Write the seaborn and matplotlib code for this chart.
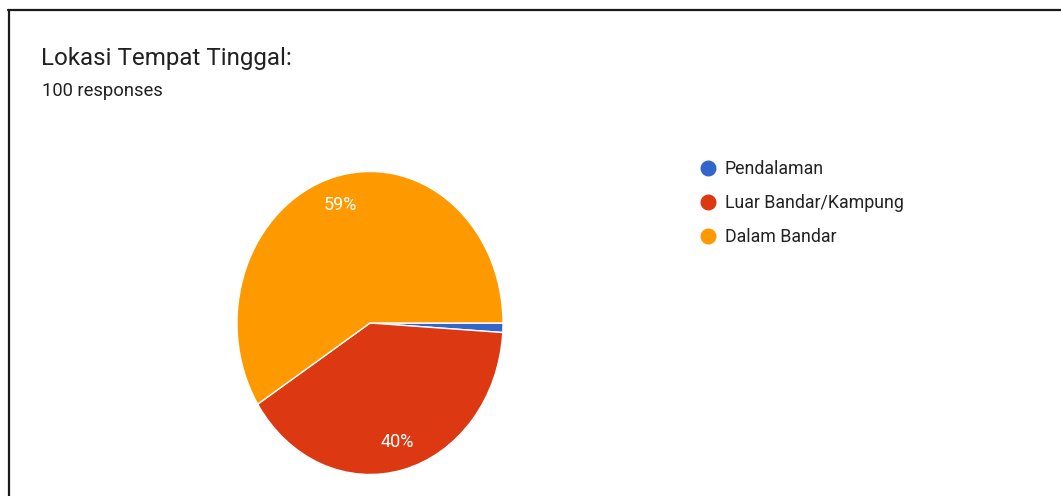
import matplotlib
matplotlib.use("Agg")
import matplotlib.pyplot as plt
from matplotlib.lines import Line2D
import seaborn as sns

# Survey responses: place of residence
categories = ["Pendalaman", "Luar Bandar/Kampung", "Dalam Bandar"]
responses = [1, 40, 59]
colors = ["#3366cc", "#dc3912", "#ff9900"]

title = "Lokasi Tempat Tinggal:"
subtitle = "100 responses"

sns.set_theme(style="white")
plt.rcParams["font.family"] = ["Roboto", "DejaVu Sans"]

W, H = 1061, 496
fig = plt.figure(figsize=(W / 100, H / 100), dpi=100)
fig.patch.set_facecolor("white")

palette = sns.color_palette(colors)

# Pie axes (slightly taller than wide)
cx, cy, rx, ry = 370, 323, 133, 151.5
ax = fig.add_axes([(cx - rx) / W, (H - cy - ry) / H, 2 * rx / W, 2 * ry / H])


def pct_label(p):
    return f"{p:.0f}%" if p >= 5 else ""


wedges, texts, autotexts = ax.pie(
    responses,
    colors=palette,
    startangle=0,
    counterclock=False,
    autopct=pct_label,
    pctdistance=0.81,
    wedgeprops=dict(edgecolor="white", linewidth=1.0),
    textprops=dict(color="white", fontsize=13),
)
ax.set_aspect("auto")
ax.set_xlim(-1, 1)
ax.set_ylim(-1, 1)
ax.axis("off")

# Title and response count
fig.text(41 / W, 1 - 58 / H, title, fontsize=17.4, color="#212121",
         va="center", ha="left")
fig.text(42 / W, 1 - 91 / H, subtitle, fontsize=13.2, color="#212121",
         va="center", ha="left")

# Legend
handles = [Line2D([], [], marker="o", ls="", markersize=10.5,
                  markerfacecolor=c, markeredgecolor=c) for c in palette]
fig.legend(handles, categories, loc="upper left",
           bbox_to_anchor=(699 / W, 1 - 160 / H), frameon=False,
           fontsize=12.8, labelspacing=0.9, handletextpad=0.45,
           handlelength=1.0, borderaxespad=0, borderpad=0,
           labelcolor="#222222")

# Page frame lines along the top and left edges
fig.add_artist(Line2D([8 / W, 1], [1 - 10 / H, 1 - 10 / H],
                      transform=fig.transFigure, color="#1a1a1a", lw=1.6))
fig.add_artist(Line2D([8.5 / W, 8.5 / W], [0, 1 - 10 / H],
                      transform=fig.transFigure, color="#1a1a1a", lw=1.6))

fig.savefig("out.png", dpi=100, facecolor="white")
